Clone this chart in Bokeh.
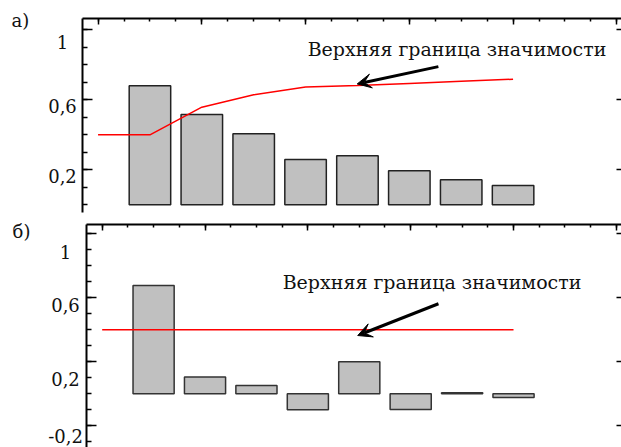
from bokeh.plotting import figure
from bokeh.models import (Range1d, LinearAxis, FixedTicker, Label, Arrow, VeeHead)
from bokeh.layouts import column, row
from bokeh.embed import file_html
from bokeh.resources import INLINE

# ---------------- data ----------------
lags = [1, 2, 3, 4, 5, 6, 7, 8]
acf_values = [0.68, 0.516, 0.406, 0.259, 0.28, 0.194, 0.143, 0.11]
acf_band_lags = [0, 1, 2, 3, 4, 5, 6, 7, 8]
acf_band = [0.40, 0.40, 0.558, 0.629, 0.673, 0.682, 0.694, 0.706, 0.718]

pacf_values = [0.677, 0.104, 0.052, -0.10, 0.20, -0.098, 0.006, -0.024]
pacf_band_lags = [0, 8]
pacf_band = [0.40, 0.40]

top_tick_vals = [1.0, 0.6, 0.2]
top_tick_text = ["1", "0,6", "0,2"]
bot_tick_vals = [1.0, 0.6, 0.2, -0.2]
bot_tick_text = ["1", "0,6", "0,2", "-0,2"]

annot_text = "Верхняя граница значимости"
panel_labels = ["а)", "б)"]

# arrow (tail -> tip) in data units
acf_arrow = dict(x_start=6.56, y_start=0.79, x_end=4.995, y_end=0.691)
pacf_arrow = dict(x_start=6.54, y_start=0.5625, x_end=4.97, y_end=0.364)

# ---------------- style / geometry ----------------
SERIF = "DejaVu Serif"
TXT = "#111111"
top_label_dy = [12.4, 6.2, 5.7]          # px shift of printed tick labels below ticks
bot_label_dy = [18, 7.4, 17.7, 10.5]

# panel a: frame 82..621 x 18..212, 175 px per unit
A_W, A_H, A_LEFT, A_TOP, A_BOT = 621, 215, 82, 18, 3
A_X = (-0.3, 10.09)
A_Y = (-0.044, 1.065)
A_PPU = 175.0
# panel b: frame 86..621 x 224..447, 160 px per unit
B_W, B_H, B_LEFT, B_TOP, B_BOT = 621, 232, 86, 9, 0
B_X = (-0.305, 10.1)
B_Y = (-0.336, 1.058)
B_PPU = 160.0
AXIS_PAD = 2


def style_axes(p, yminor, ymajor):
    la = p.yaxis[0]
    la.ticker = FixedTicker(ticks=ymajor, minor_ticks=yminor)
    la.major_tick_in = 10
    la.major_tick_out = 0
    la.minor_tick_in = 5
    la.minor_tick_out = 0
    la.axis_line_width = 2
    la.major_tick_line_width = 1.5
    la.minor_tick_line_width = 1.5
    la.major_label_text_color = None
    la.major_label_standoff = 0

    ta = LinearAxis(ticker=FixedTicker(ticks=[0, 2, 4, 6, 8, 10],
                                       minor_ticks=[i * 0.5 for i in range(21)]))
    ta.major_tick_in = 6
    ta.major_tick_out = 0
    ta.minor_tick_in = 3
    ta.minor_tick_out = 0
    ta.axis_line_width = 2
    ta.major_tick_line_width = 1.5
    ta.minor_tick_line_width = 1.5
    ta.major_label_text_color = None
    ta.major_label_standoff = 0
    p.add_layout(ta, "above")

    ra = LinearAxis(ticker=FixedTicker(ticks=ymajor, minor_ticks=[]))
    ra.major_tick_in = 5
    ra.major_tick_out = 0
    ra.minor_tick_in = 0
    ra.minor_tick_out = 0
    ra.axis_line_alpha = 0
    ra.major_tick_line_width = 1.5
    ra.major_label_text_color = None
    ra.major_label_standoff = 0
    p.add_layout(ra, "right")


def make_fig(width, height, border_top, border_bottom, xr, yr):
    p = figure(width=width, height=height, output_backend="svg", toolbar_location=None,
               x_range=Range1d(*xr), y_range=Range1d(*yr),
               x_axis_location=None, min_border_left=AXIS_PAD,
               min_border_right=0, min_border_top=border_top,
               min_border_bottom=border_bottom, frame_align=False)
    p.outline_line_color = None
    p.grid.visible = False
    p.background_fill_color = "white"
    p.border_fill_color = "white"
    return p


def label_fig(width, height, y_top, y_bottom, ticks, texts, dys, cx, ptext, pcx, pdy):
    """Left margin strip holding the printed tick labels and the panel letter,
    on the same vertical scale as its panel."""
    f = figure(width=width, height=height, output_backend="svg", toolbar_location=None,
               x_range=Range1d(0, width), y_range=Range1d(y_bottom, y_top),
               x_axis_location=None, y_axis_location=None,
               min_border=0, frame_align=False)
    f.outline_line_color = None
    f.grid.visible = False
    f.border_fill_color = "white"
    f.background_fill_color = "white"
    for v, t, d in zip(ticks, texts, dys):
        f.add_layout(Label(x=cx, y=v, y_offset=-d, text=t, text_font=SERIF,
                           text_font_size="18px", text_color=TXT,
                           text_align="center", text_baseline="middle"))
    f.add_layout(Label(x=pcx, y=y_top, y_offset=-pdy, text=ptext, text_font=SERIF,
                       text_font_size="18px", text_color=TXT,
                       text_align="center", text_baseline="middle"))
    return f


# ---------------- panel a ----------------
p1 = make_fig(A_W - A_LEFT + AXIS_PAD, A_H, A_TOP, A_BOT, A_X, A_Y)
style_axes(p1, [i / 10 for i in range(0, 11)], top_tick_vals)
p1.vbar(x=lags, top=acf_values, bottom=0, width=0.8, fill_color="#c0c0c0",
        line_color="#222222", line_width=1.5)
p1.line(acf_band_lags, acf_band, line_color="red", line_width=1.5)
p1.add_layout(Arrow(end=VeeHead(size=14, fill_color="black", line_color="black"),
                    line_width=3, line_color="black", **acf_arrow))
p1.add_layout(Label(x=4.04, y=0.893, text=annot_text, text_font=SERIF,
                    text_font_size="19px", text_color=TXT,
                    text_align="left", text_baseline="alphabetic"))

la_fig = label_fig(A_LEFT - AXIS_PAD, A_H,
                   A_Y[1] + A_TOP / A_PPU, A_Y[0] - A_BOT / A_PPU,
                   top_tick_vals, top_tick_text, top_label_dy, 62,
                   panel_labels[0], 20, 19.5)

# ---------------- panel b ----------------
p2 = make_fig(B_W - B_LEFT + AXIS_PAD, B_H, B_TOP, B_BOT, B_X, B_Y)
style_axes(p2, [i / 10 for i in range(-3, 11)], bot_tick_vals)
p2.vbar(x=lags, top=pacf_values, bottom=0, width=0.8, fill_color="#c0c0c0",
        line_color="#333333", line_width=1.5)
p2.line(pacf_band_lags, pacf_band, line_color="red", line_width=1.5)
p2.add_layout(Arrow(end=VeeHead(size=14, fill_color="black", line_color="black"),
                    line_width=3, line_color="black", **pacf_arrow))
p2.add_layout(Label(x=3.51, y=0.70, text=annot_text, text_font=SERIF,
                    text_font_size="19px", text_color=TXT,
                    text_align="left", text_baseline="alphabetic"))

lb_fig = label_fig(B_LEFT - AXIS_PAD, B_H,
                   B_Y[1] + B_TOP / B_PPU, B_Y[0] - B_BOT / B_PPU,
                   bot_tick_vals, bot_tick_text, bot_label_dy, 65,
                   panel_labels[1], 21, 15.8)

layout = column(row(la_fig, p1, spacing=0), row(lb_fig, p2, spacing=0), spacing=0)
open("out.html", "w").write(file_html(layout, INLINE))
